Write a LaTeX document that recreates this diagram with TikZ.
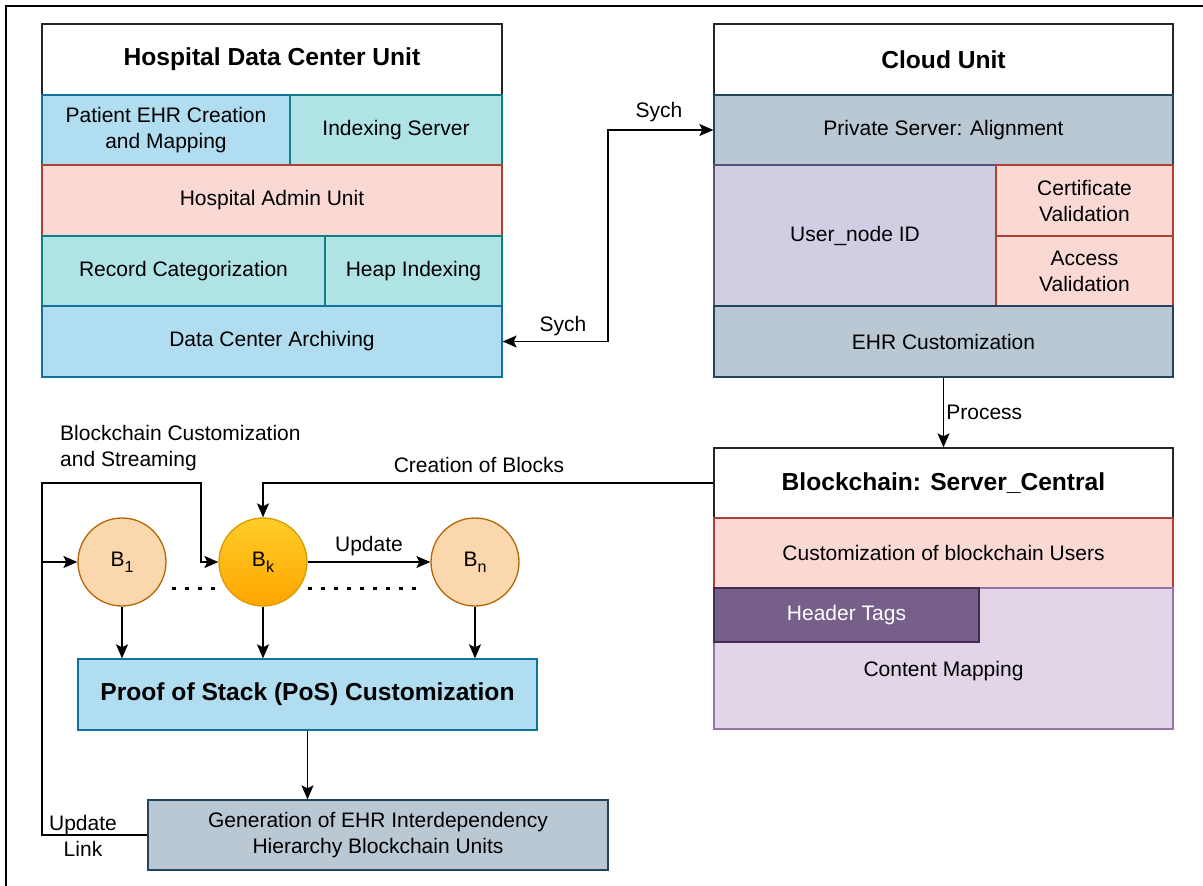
\documentclass[tikz,border=0pt]{standalone}
\usepackage{fontspec}
\setmainfont{Liberation Sans}
\usetikzlibrary{calc,positioning,arrows.meta}
\definecolor{cblue}{HTML}{B1DDF0}\definecolor{cblueD}{HTML}{10739E}
\definecolor{cteal}{HTML}{B0E3E6}\definecolor{ctealD}{HTML}{0E8088}
\definecolor{cred}{HTML}{FAD9D5}\definecolor{credD}{HTML}{AE4132}
\definecolor{cgray}{HTML}{BAC8D3}\definecolor{cgrayD}{HTML}{23445D}
\definecolor{clav}{HTML}{D0CEE2}\definecolor{clavD}{HTML}{56517E}
\definecolor{cpur}{HTML}{76608A}\definecolor{cpurD}{HTML}{432D57}
\definecolor{clil}{HTML}{E1D5E7}\definecolor{clilD}{HTML}{9673A6}
\definecolor{corg}{HTML}{FAD7AC}\definecolor{corgD}{HTML}{B46504}
\definecolor{cyelT}{HTML}{FFCD28}\definecolor{cyelB}{HTML}{FFA500}\definecolor{cyelD}{HTML}{D79B00}
\newcommand{\blksub}[1]{\raisebox{-0.55ex}{\fontsize{16}{16}\selectfont #1}}
\tikzset{
  cell/.style={draw,line width=1.3pt,inner sep=0pt,align=center,font=\fontsize{21}{26}\selectfont},
  ttl/.style={cell,fill=white,draw=black!85,font=\fontsize{24.6}{30}\selectfont\bfseries},
  blu/.style={cell,fill=cblue,draw=cblueD},
  tea/.style={cell,fill=cteal,draw=ctealD},
  rdd/.style={cell,fill=cred,draw=credD},
  gry/.style={cell,fill=cgray,draw=cgrayD},
  blk/.style={circle,draw,line width=1.3pt,minimum size=88,inner sep=0pt,font=\fontsize{21}{26}\selectfont},
  lbl/.style={inner sep=2pt,align=center,font=\fontsize{21}{26}\selectfont},
  arr/.style={line width=1.7pt,-{Stealth[length=14pt,width=12pt,inset=3pt]}},
  dots/.style={line width=3pt,dash pattern=on 3.5pt off 9.5pt}
}
\begin{document}
\begin{tikzpicture}[x=1pt,y=-1pt]
\useasboundingbox (0,0) rectangle (1203,886);
\draw[line width=2.4pt] (6,886) -- (6,6) -- (1203,6);

% hospital side
\node[ttl,minimum width=460,minimum height=71] at (272,59.5) (htitle) {Hospital Data Center Unit};
\node[blu,minimum width=248,minimum height=70] at (166,130) (hpat) {Patient EHR Creation\\and Mapping};
\node[tea,minimum width=212,minimum height=70] at (396,130) (hidx) {Indexing Server};
\node[rdd,minimum width=460,minimum height=71] at (272,200.5) (hadm) {Hospital Admin Unit};
\node[tea,minimum width=283,minimum height=70] at (183.5,271) (hrec) {Record Categorization};
\node[tea,minimum width=177,minimum height=70] at (413.5,271) (hheap) {Heap Indexing};
\node[blu,minimum width=460,minimum height=71] at (272,341.5) (harch) {Data Center Archiving};

% cloud side
\node[ttl,minimum width=459,minimum height=71] at (943.5,59.5) (ctitle) {Cloud Unit};
\node[gry,minimum width=459,minimum height=70] at (943.5,130) (cps) {Private Server: Alignment};
\node[cell,fill=clav,draw=clavD,minimum width=282,minimum height=141] at (855,235.5) (cuser) {User\_node ID};
\node[rdd,minimum width=177,minimum height=71] at (1084.5,200.5) (ccert) {Certificate\\Validation};
\node[rdd,minimum width=177,minimum height=70] at (1084.5,271) (cacc) {Access\\Validation};
\node[gry,minimum width=459,minimum height=71] at (943.5,341.5) (cehr) {EHR Customization};

\draw[arr,{Stealth[length=14pt,width=12pt,inset=3pt]}-{Stealth[length=14pt,width=12pt,inset=3pt]}]
  (harch.east) -| ($(harch.east)!.5!(cps.west)$) |- (cps.west);
\node[lbl] at (659,112) (sych1) {Sych};
\node[lbl] at (563,326) (sych2) {Sych};

% blockchain server
\node[ttl,minimum width=459,minimum height=70] at (943.5,483) (btitle) {Blockchain: Server\_Central};
\node[rdd,minimum width=459,minimum height=70] at (943.5,553) (bcust) {Customization of blockchain Users};
\node[cell,fill=clil,draw=clilD,minimum width=459,minimum height=141,
  label={[lbl,yshift=-13pt]center:Content Mapping}] at (943.5,658.5) (bcont) {};
\node[cell,fill=cpur,draw=cpurD,text=white,minimum width=265,minimum height=54] at (846.5,615) (bhead) {Header Tags};

\draw[arr] (cehr.south) -- (btitle.north) node[lbl,midway,right] (proc) {Process};

% blocks
\node[blk,fill=corg,draw=corgD] at (122,562) (b1) {B\blksub{1}};
\node[blk,top color=cyelT,bottom color=cyelB,draw=cyelD] at (263,562) (bk) {B\blksub{k}};
\node[blk,fill=corg,draw=corgD] at (475,562) (bn) {B\blksub{n}};
\draw[dots] ([xshift=14pt]b1.-36) -- ([xshift=-10pt]bk.216);
\draw[dots] ([xshift=9pt]bk.-36) -- ([xshift=-14pt]bn.216);

\node[cell,fill=cblue,draw=cblueD,font=\fontsize{24.6}{30}\selectfont\bfseries,
  minimum width=459,minimum height=71] at (307.5,694.5) (pos) {Proof of Stack (PoS) Customization};
\node[gry,minimum width=460,minimum height=70] at (378,835) (gen) {Generation of EHR Interdependency\\Hierarchy Blockchain Units};

\draw[arr] (bk.east) -- (bn.west) node[lbl,midway,above=3pt] (upd) {Update};
\draw[arr] (b1.south) -- (b1.south |- pos.north);
\draw[arr] (bk.south) -- (bk.south |- pos.north);
\draw[arr] (bn.south) -- (bn.south |- pos.north);
\draw[arr] (pos.south) -- (pos.south |- gen.north);

\draw[arr] (btitle.west) -| (bk.north);
\node[lbl] at (479,465) (cob) {Creation of Blocks};

% feedback loop
\coordinate (fbl) at (42,483);
\coordinate (fbr) at (201,483);
\draw[arr] (gen.west) -| (fbl) -- (fbr) |- (bk.west);
\draw[arr] (fbl |- b1.west) -- (b1.west);
\node[lbl,anchor=west,align=left] at (58,448) (bcs) {Blockchain Customization\\and Streaming};
\node[lbl] at (83,836) (ulink) {Update\\Link};
\end{tikzpicture}
\end{document}
